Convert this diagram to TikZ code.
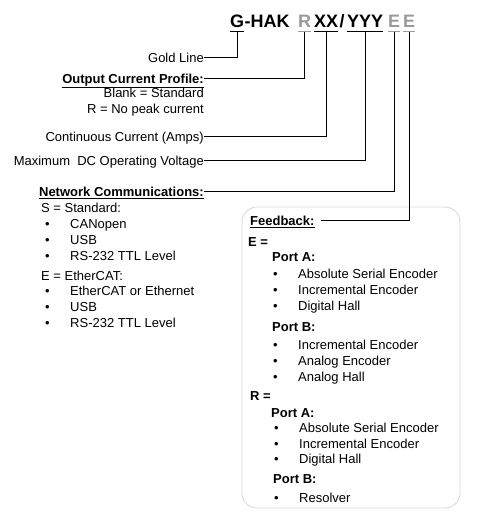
\documentclass[tikz,border=0pt]{standalone}
\usepackage{fontspec}
\setmainfont{Liberation Sans}
\definecolor{titlegray}{HTML}{9A9A9A}
\definecolor{boxgray}{HTML}{DADADA}
\begin{document}
\begin{tikzpicture}[x=1pt,y=-1pt,
  txt/.style={inner sep=0pt, font=\fontsize{13}{15}\selectfont, text height=9.5pt, text depth=0pt},
  lt/.style={txt, anchor=base west},
  rt/.style={txt, anchor=base east},
  ttl/.style={inner sep=0pt, anchor=base west, font=\fontsize{18}{20}\selectfont\bfseries, text height=13pt, text depth=3.6pt},
  uline/.style={line width=1.4pt},
  conn/.style={line width=1.2pt, black},
  bul/.style={txt, anchor=base west},
]
\useasboundingbox (0,0) rectangle (480,526);

% ---- title ----
\node[ttl] (g) at (230,28) {G};
\node[ttl] (hak) at (g.base east) {-HAK};
\node[ttl, text=titlegray] (r) at (298,28) {R};
\node[ttl] (xx) at (314,28) {XX};
\node[ttl] (sl) at (339.5,28) {/};
\node[ttl] (yyy) at (347,28) {YYY};
\node[ttl, text=titlegray] (e1) at (388,28) {E};
\node[ttl, text=titlegray] (e2) at (403,28) {E};
\foreach \n in {g,xx,yyy} \draw[uline] (\n.south west) -- (\n.south east);
\foreach \n in {r,e1,e2} \draw[uline, titlegray] (\n.south west) -- (\n.south east);

% ---- left labels ----
\node[rt] (gold) at (204,62.5) {Gold Line};
\node[rt] (ocp) at (204,83.5) {\textbf{\underline{Output Current Profile:}}};
\node[rt] (blank) at (204,97.5) {Blank = Standard};
\node[rt] (nopk) at (204,114) {R = No peak current};
\node[rt] (cont) at (204,141.5) {Continuous Current (Amps)};
\node[rt] (maxv) at (204,165.5) {Maximum\ \ DC Operating Voltage};
\node[rt] (net) at (204,196.5) {\textbf{\underline{Network Communications:}}};

\node[lt] (sstd) at (41,212.5) {S = Standard:};
\node[bul] (b1) at (45,228.5) {•};
\node[lt] (t1) at (70,228.5) {CANopen};
\node[bul] (b2) at (45,244.5) {•};
\node[lt] (t2) at (70,244.5) {USB};
\node[bul] (b3) at (45,260.5) {•};
\node[lt] (t3) at (70,260.5) {RS-232 TTL Level};
\node[lt] (ecat) at (41,280.5) {E = EtherCAT:};
\node[bul] (b4) at (45,295.5) {•};
\node[lt] (t4) at (70,295.5) {EtherCAT or Ethernet};
\node[bul] (b5) at (45,311.5) {•};
\node[lt] (t5) at (70,311.5) {USB};
\node[bul] (b6) at (45,327.5) {•};
\node[lt] (t6) at (70,327.5) {RS-232 TTL Level};

% ---- feedback box ----
\draw[boxgray, line width=0.9pt, rounded corners=15pt] (242,207) rectangle (460,508);
\node[lt] (fb) at (250,225.5) {\textbf{\underline{Feedback:}}};
\node[lt] (fe) at (248,246.5) {\textbf{E =}};
\node[lt] (fpa) at (272,261.5) {\textbf{Port A:}};
\node[bul] (c1) at (273,278.5) {•};
\node[lt] (u1) at (298,278.5) {Absolute Serial Encoder};
\node[bul] (c2) at (273,294.5) {•};
\node[lt] (u2) at (298,294.5) {Incremental Encoder};
\node[bul] (c3) at (273,310.5) {•};
\node[lt] (u3) at (298,310.5) {Digital Hall};
\node[lt] (fpb) at (272,331.5) {\textbf{Port B:}};
\node[bul] (c4) at (273,349.5) {•};
\node[lt] (u4) at (298,349.5) {Incremental Encoder};
\node[bul] (c5) at (273,365.5) {•};
\node[lt] (u5) at (298,365.5) {Analog Encoder};
\node[bul] (c6) at (273,381.5) {•};
\node[lt] (u6) at (298,381.5) {Analog Hall};
\node[lt] (fr) at (250,400.5) {\textbf{R =}};
\node[lt] (rpa) at (271,417.5) {\textbf{Port A:}};
\node[bul] (d1) at (274,432.5) {•};
\node[lt] (v1) at (299,432.5) {Absolute Serial Encoder};
\node[bul] (d2) at (274,448.5) {•};
\node[lt] (v2) at (299,448.5) {Incremental Encoder};
\node[bul] (d3) at (274,463.5) {•};
\node[lt] (v3) at (299,463.5) {Digital Hall};
\node[lt] (rpb) at (273,483.5) {\textbf{Port B:}};
\node[bul] (d4) at (274,502.5) {•};
\node[lt] (v4) at (299,502.5) {Resolver};

% ---- connectors ----
\draw[conn] (g.south) |- (gold.east);
\draw[conn] (r.south) |- (ocp.east);
\draw[conn] (xx.south) |- (cont.east);
\draw[conn] (yyy.south) |- (maxv.east);
\draw[conn] (e1.south) |- (net.east);
\draw[conn] (e2.south) |- ([xshift=6pt]fb.east);
\end{tikzpicture}
\end{document}
